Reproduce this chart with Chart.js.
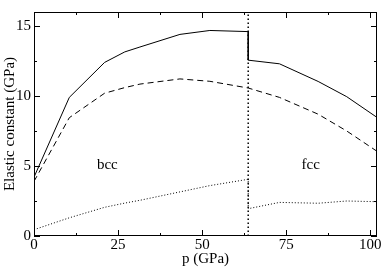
<!DOCTYPE html>
<html>
<head>
<meta charset="utf-8">
<script src="https://cdn.jsdelivr.net/npm/chart.js@4/dist/chart.umd.min.js"></script>
<style>
  html, body { margin: 0; padding: 0; background: #fff; }
  #wrap { width: 382px; height: 268px; }
</style>
</head>
<body>
<div id="wrap"><canvas id="elastic"></canvas></div>
<script>
// pressure (GPa) and elastic constants (GPa)
const pBcc = [0, 10.5, 21, 27, 31.5, 43.4, 52.3, 63.7];
const c11Bcc = [4.2, 9.9, 12.4, 13.15, 13.5, 14.4, 14.68, 14.6];
const c12Bcc = [3.9, 8.45, 10.2, 10.6, 10.85, 11.22, 11.05, 10.57];
const c44Bcc = [0.45, 1.3, 2.05, 2.35, 2.55, 3.15, 3.6, 4.05];

const pFcc = [63.7, 73, 84.5, 93, 102];
const c11Fcc = [12.56, 12.3, 11.04, 9.95, 8.47];
const c12Fcc = [10.57, 9.9, 8.7, 7.5, 6.05];
const c44Fcc = [1.95, 2.4, 2.34, 2.5, 2.45];

const transitionP = 63.7;
const xTicks = [0, 25, 50, 75, 100];
const yTicks = [0, 5, 10, 15];
const phaseLabels = [{ text: "bcc", p: 21.8, c: 5.05 }, { text: "fcc", p: 82.3, c: 5.05 }];

const serif = "'Liberation Serif', 'DejaVu Serif', serif";

function pts(xs, ys) {
  return xs.map((x, i) => ({ x: x, y: ys[i] }));
}

// solid curve has the vertical drop at the transition
const c11All = pts(pBcc, c11Bcc).concat(pts(pFcc, c11Fcc));
const c12All = pts(pBcc, c12Bcc).concat(pts(pFcc, c12Fcc));
const c44All = pts(pBcc, c44Bcc).concat(pts(pFcc, c44Fcc));

function line(data, dash, width) {
  return {
    data: data,
    showLine: true,
    borderColor: "#000",
    borderWidth: width || 1,
    borderDash: dash,
    pointRadius: 0,
    tension: 0,
    fill: false,
  };
}

// frame, inward ticks on all four sides, and the phase labels
const framePlugin = {
  id: "frame",
  afterDatasetsDraw(chart) {
    const ctx = chart.ctx;
    const a = chart.chartArea;
    const xs = chart.scales.x;
    const ys = chart.scales.y;
    ctx.save();
    ctx.strokeStyle = "#000";
    ctx.lineWidth = 1;
    ctx.strokeRect(a.left + 0.5, a.top + 0.5, a.right - a.left - 1, a.bottom - a.top - 1);
    ctx.beginPath();
    for (let v = 0; v <= 100; v += 12.5) {
      const len = v % 25 === 0 ? 6 : 3;
      const px = Math.round(xs.getPixelForValue(v)) + 0.5;
      ctx.moveTo(px, a.bottom); ctx.lineTo(px, a.bottom - len);
      ctx.moveTo(px, a.top); ctx.lineTo(px, a.top + len);
    }
    for (let v = 0; v <= 15; v += 2.5) {
      const len = v % 5 === 0 ? 6 : 3;
      const py = Math.round(ys.getPixelForValue(v)) + 0.5;
      ctx.moveTo(a.left, py); ctx.lineTo(a.left + len, py);
      ctx.moveTo(a.right, py); ctx.lineTo(a.right - len, py);
    }
    ctx.stroke();
    ctx.fillStyle = "#000";
    ctx.font = "15px " + serif;
    ctx.textAlign = "center";
    ctx.textBaseline = "middle";
    phaseLabels.forEach(l => {
      ctx.fillText(l.text, xs.getPixelForValue(l.p), ys.getPixelForValue(l.c));
    });
    ctx.restore();
  },
};

new Chart(document.getElementById("elastic"), {
  type: "scatter",
  data: {
    datasets: [
      line(c11All, []),
      line(c12All, [6, 4]),
      line(c44All, [1, 2]),
      line([{ x: transitionP, y: 0 }, { x: transitionP, y: 16 }], [1.5, 2.5], 1.5),
    ],
  },
  options: {
    responsive: true,
    maintainAspectRatio: false,
    animation: false,
    layout: { padding: { top: 2, right: 5, left: 1, bottom: 0 } },
    plugins: { legend: { display: false }, tooltip: { enabled: false } },
    scales: {
      x: {
        type: "linear",
        min: 0,
        max: 102,
        afterBuildTicks: s => { s.ticks = xTicks.map(v => ({ value: v })); },
        afterFit: s => { s.height = 32; },
        grid: { display: false, drawTicks: false },
        border: { display: false },
        ticks: { color: "#000", padding: 0, font: { family: serif, size: 15 }, maxRotation: 0 },
        title: { display: true, text: "p (GPa)", color: "#000", padding: 0, font: { family: serif, size: 15 } },
      },
      y: {
        type: "linear",
        min: 0,
        max: 16,
        afterBuildTicks: s => { s.ticks = yTicks.map(v => ({ value: v })); },
        afterFit: s => { s.width = 33; },
        grid: { display: false, drawTicks: false },
        border: { display: false },
        ticks: { color: "#000", padding: 3, font: { family: serif, size: 15 } },
        title: { display: true, text: "Elastic constant (GPa)", color: "#000", padding: 0, font: { family: serif, size: 15 } },
      },
    },
  },
  plugins: [framePlugin],
});
</script>
</body>
</html>
